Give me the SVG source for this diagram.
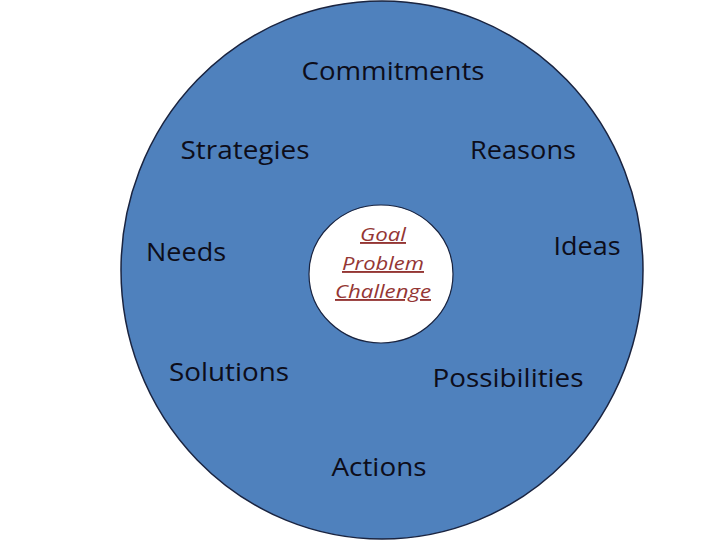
<svg xmlns="http://www.w3.org/2000/svg" width="720" height="540" viewBox="0 0 720 540">
<style>
.lbl{font-family:"Open Sans","Liberation Sans",sans-serif;font-size:25px;fill:#0d0d1a;text-anchor:middle}
.core{font-family:"Open Sans","Liberation Sans",sans-serif;font-size:19px;font-style:italic;fill:#943634;text-anchor:middle;text-decoration:underline}
</style>
<rect width="720" height="540" fill="#ffffff"/>
<g id="outer">
<ellipse cx="382" cy="270" rx="261" ry="269" fill="#4f81bd" stroke="#1a2440" stroke-width="1.5"/>
</g>
<g id="center">
<ellipse cx="381" cy="274" rx="72" ry="69" fill="#ffffff" stroke="#1a2440" stroke-width="1.2"/>
<text class="core" x="383" y="241" textLength="46" lengthAdjust="spacingAndGlyphs">Goal</text>
<text class="core" x="383" y="270" textLength="82" lengthAdjust="spacingAndGlyphs">Problem</text>
<text class="core" x="383" y="298" textLength="96" lengthAdjust="spacingAndGlyphs">Challenge</text>
</g>
<g id="commitments"><text class="lbl" x="393" y="80" textLength="183" lengthAdjust="spacingAndGlyphs">Commitments</text></g>
<g id="strategies"><text class="lbl" x="245" y="159" textLength="129" lengthAdjust="spacingAndGlyphs">Strategies</text></g>
<g id="reasons"><text class="lbl" x="523" y="159" textLength="106" lengthAdjust="spacingAndGlyphs">Reasons</text></g>
<g id="needs"><text class="lbl" x="186" y="261" textLength="80" lengthAdjust="spacingAndGlyphs">Needs</text></g>
<g id="ideas"><text class="lbl" x="587" y="255" textLength="67" lengthAdjust="spacingAndGlyphs">Ideas</text></g>
<g id="solutions"><text class="lbl" x="229" y="381" textLength="120" lengthAdjust="spacingAndGlyphs">Solutions</text></g>
<g id="possibilities"><text class="lbl" x="508" y="387" textLength="151" lengthAdjust="spacingAndGlyphs">Possibilities</text></g>
<g id="actions"><text class="lbl" x="379" y="476" textLength="95" lengthAdjust="spacingAndGlyphs">Actions</text></g>
<g id="connectors"></g>
</svg>
